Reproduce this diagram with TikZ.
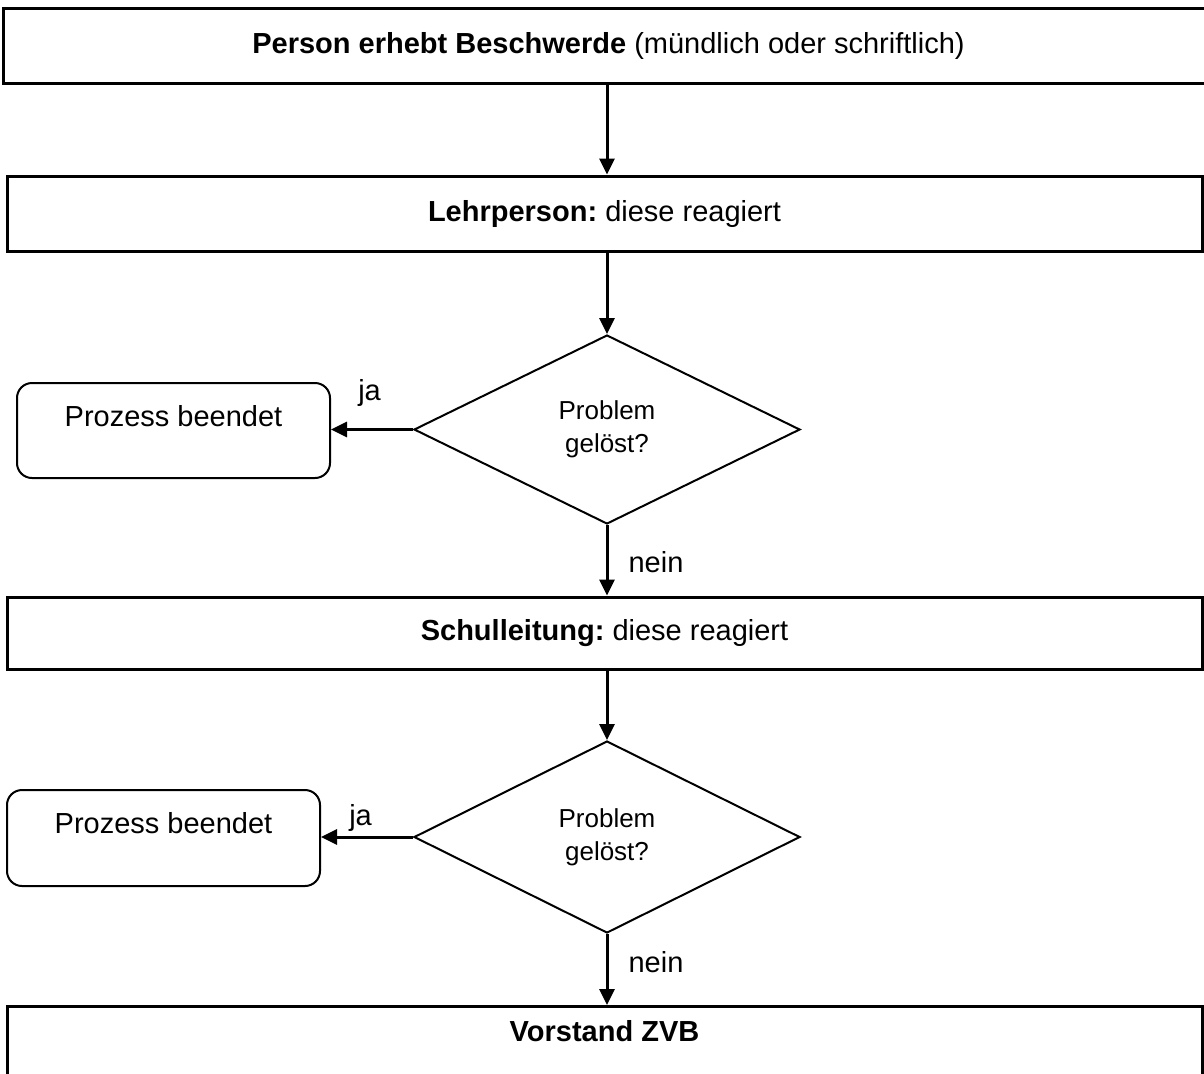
\documentclass[tikz,border=0pt]{standalone}
\usepackage{fontspec}
\setmainfont{Liberation Sans}
\usetikzlibrary{shapes.geometric,arrows.meta}
\frenchspacing
\begin{document}
\begin{tikzpicture}[x=0.5pt,y=-0.5pt,
  mainfont/.style={font=\fontsize{14.5}{17}\selectfont},
  bigbox/.style={draw, line width=1.5pt, rectangle, inner sep=0pt, mainfont},
  endbox/.style={draw, line width=1pt, rectangle, rounded corners=7.5pt, inner sep=0pt, mainfont, anchor=north},
  decision/.style={draw, line width=1pt, diamond, inner sep=0pt, align=center, font=\fontsize{13}{16.5}\selectfont},
  arr/.style={line width=1.5pt, -{Triangle[length=8pt,width=7.5pt]}},
  lbl/.style={mainfont, inner sep=0pt}]
\useasboundingbox (0,0) rectangle (1204,1073);
% boxes
\node[bigbox, minimum width=605pt, minimum height=37.5pt] (b1) at (608.5,45.5)
  {\textbf{Person erhebt Beschwerde} (mündlich oder schriftlich)};
\node[bigbox, minimum width=597.5pt, minimum height=37.5pt] (b2) at (604.5,213.5)
  {\textbf{Lehrperson:} diese reagiert};
\node[decision, minimum width=193pt, minimum height=94.5pt] (d1) at (607,429.5)
  {Problem\\gelöst?};
\node[endbox, minimum width=156.5pt, text height=21.5pt, text depth=26pt] (r1) at (173.5,382)
  {Prozess beendet};
\node[bigbox, minimum width=597.5pt, minimum height=36pt] (b3) at (604.5,633)
  {\textbf{Schulleitung:} diese reagiert};
\node[decision, minimum width=193pt, minimum height=96pt] (d2) at (607,837)
  {Problem\\gelöst?};
\node[endbox, minimum width=156.5pt, text height=21.5pt, text depth=26.5pt] (r2) at (163.5,789)
  {Prozess beendet};
\node[bigbox, anchor=north, minimum width=597.5pt, text height=17.5pt, text depth=25pt] (b4) at (604.5,1005)
  {\textbf{Vorstand ZVB}};
% connectors
\draw[arr] (b1.south -| d1.north) -- (b2.north -| d1.north);
\draw[arr] (b2.south -| d1.north) -- (d1.north);
\draw[arr] (d1.west) -- node[lbl, pos=0.53, yshift=18.5pt] {ja} (d1.west -| r1.east);
\draw[arr] (d1.south) -- node[lbl, pos=0.53, xshift=24.5pt] {nein} (b3.north -| d1.south);
\draw[arr] (b3.south -| d2.north) -- (d2.north);
\draw[arr] (d2.west) -- node[lbl, pos=0.57, yshift=9.5pt] {ja} (d2.west -| r2.east);
\draw[arr] (d2.south) -- node[lbl, pos=0.40, xshift=24.5pt] {nein} (b4.north -| d2.south);
\end{tikzpicture}
\end{document}
